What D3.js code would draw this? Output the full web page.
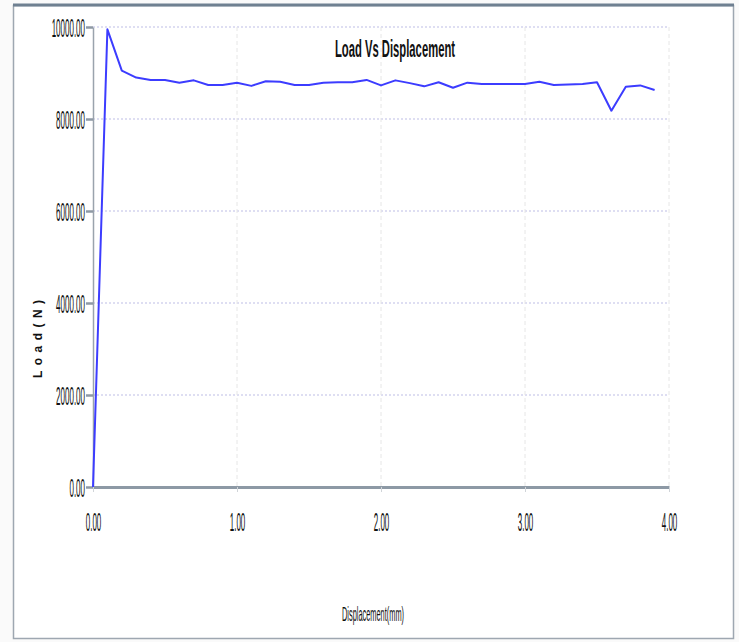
<!DOCTYPE html>
<html>
<head>
<meta charset="utf-8">
<script src="https://cdn.jsdelivr.net/npm/d3@7"></script>
<style>
  body { margin: 0; background: #fafafa; }
  svg { display: block; }
  text { font-family: "Liberation Sans", Arial, sans-serif; fill: #111; }
</style>
</head>
<body>
<svg id="chart" width="739" height="642"></svg>
<script>
// displacement (mm) and load (N) at 0.1 mm steps
const displacement = [0.0, 0.1, 0.2, 0.3, 0.4, 0.5, 0.6, 0.7, 0.8, 0.9,
  1.0, 1.1, 1.2, 1.3, 1.4, 1.5, 1.6, 1.7, 1.8, 1.9,
  2.0, 2.1, 2.2, 2.3, 2.4, 2.5, 2.6, 2.7, 2.8, 2.9,
  3.0, 3.1, 3.2, 3.3, 3.4, 3.5, 3.6, 3.7, 3.8, 3.9];
const load = [0, 9950, 9050, 8900, 8850, 8850, 8790, 8840, 8740, 8740,
  8790, 8720, 8820, 8810, 8740, 8740, 8790, 8800, 8800, 8850,
  8730, 8840, 8780, 8710, 8800, 8680, 8790, 8760, 8760, 8760,
  8760, 8810, 8740, 8750, 8760, 8800, 8180, 8700, 8730, 8630];
const xTicks = [0, 1, 2, 3, 4];
const yTicks = [0, 2000, 4000, 6000, 8000, 10000];

const svg = d3.select("#chart");
const plot = {left: 93, right: 669, top: 27, bottom: 487};

const x = d3.scaleLinear().domain([0, 4]).range([plot.left, plot.right]);
const y = d3.scaleLinear().domain([0, 10000]).range([plot.bottom, plot.top]);

// outer frame
svg.append("rect")
  .attr("x", 13.5).attr("y", 5.5).attr("width", 720).attr("height", 633)
  .attr("fill", "#fff").attr("stroke", "#9ea7b1").attr("stroke-width", 1.5);
svg.append("line")
  .attr("x1", 13).attr("x2", 734).attr("y1", 5).attr("y2", 5)
  .attr("stroke", "#6f8091").attr("stroke-width", 3);

// grid
svg.append("g").selectAll("line").data(yTicks.slice(1)).join("line")
  .attr("x1", plot.left).attr("x2", plot.right)
  .attr("y1", d => y(d)).attr("y2", d => y(d))
  .attr("stroke", "#d4d4ee").attr("stroke-width", 1.5).attr("stroke-dasharray", "2,2");
svg.append("g").selectAll("line").data(xTicks.slice(1)).join("line")
  .attr("x1", d => x(d)).attr("x2", d => x(d))
  .attr("y1", plot.top).attr("y2", plot.bottom)
  .attr("stroke", "#e6e6e6").attr("stroke-dasharray", "4,3");

// y axis
const yAxis = svg.append("g").attr("transform", `translate(${plot.left},0)`)
  .call(d3.axisLeft(y).tickValues(yTicks).tickSize(7).tickSizeOuter(0).tickFormat(d3.format(".2f")));
yAxis.select(".domain").attr("stroke", "#9aa3ad").attr("stroke-width", 1.5);
yAxis.selectAll(".tick line").attr("stroke", "#8e99a4").attr("stroke-width", 2.5);
yAxis.selectAll(".tick text")
  .attr("font-size", 25).attr("x", 0).attr("dy", "0.36em")
  .attr("transform", "translate(-8,0) scale(0.32,1)")
  .attr("fill", "#111");

// x axis
const xAxis = svg.append("g").attr("transform", `translate(0,${plot.bottom})`)
  .call(d3.axisBottom(x).tickValues(xTicks).tickSize(5).tickSizeOuter(0).tickFormat(d3.format(".2f")));
xAxis.select(".domain").attr("stroke", "#8d99a5").attr("stroke-width", 3);
xAxis.selectAll(".tick line").attr("stroke", "#d0d4d8");
xAxis.selectAll(".tick text")
  .attr("font-size", 25).attr("y", 0).attr("dy", "0.36em")
  .attr("transform", "translate(0,35) scale(0.32,1)")
  .attr("fill", "#111");

// data line
svg.append("path")
  .datum(displacement.map((d, i) => [d, load[i]]))
  .attr("fill", "none")
  .attr("stroke", "#3c3cff")
  .attr("stroke-width", 2)
  .attr("stroke-linejoin", "round")
  .attr("d", d3.line().x(d => x(d[0])).y(d => y(d[1])));

// title and axis labels
svg.append("text")
  .attr("x", 395).attr("y", 57).attr("text-anchor", "middle")
  .attr("font-size", 24).attr("font-weight", "bold")
  .attr("textLength", 120).attr("lengthAdjust", "spacingAndGlyphs")
  .text("Load Vs Displacement");

svg.append("text")
  .attr("x", 373).attr("y", 621).attr("text-anchor", "middle")
  .attr("font-size", 21).attr("textLength", 62).attr("lengthAdjust", "spacingAndGlyphs")
  .text("Displacement(mm)");

svg.append("text")
  .attr("transform", "translate(42,339) rotate(-90)")
  .attr("text-anchor", "middle")
  .attr("font-size", 12).attr("font-weight", "bold")
  .attr("textLength", 78).attr("lengthAdjust", "spacing")
  .text("Load(N)");
</script>
</body>
</html>
